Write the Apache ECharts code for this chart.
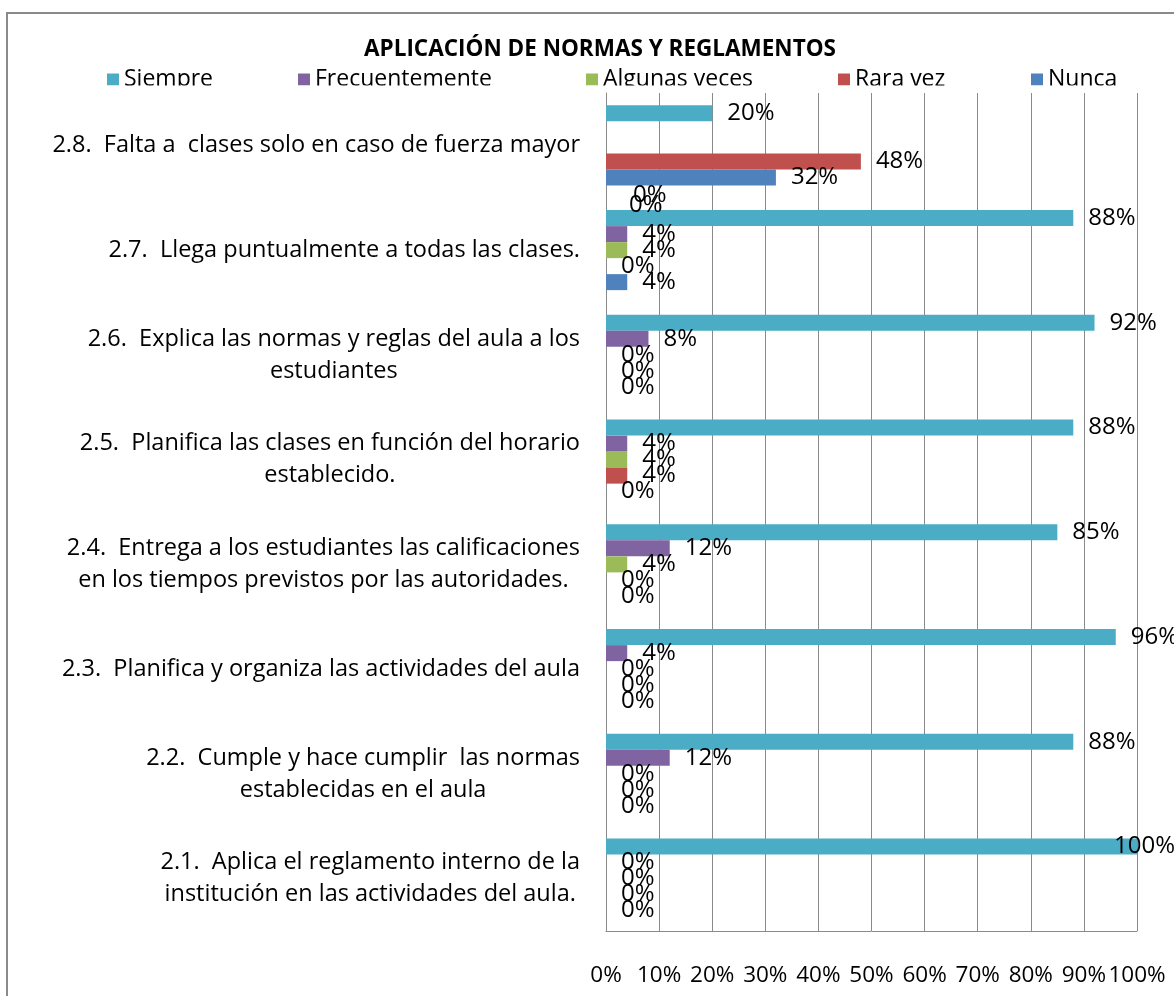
<!DOCTYPE html>
<html>
<head>
<meta charset="utf-8">
<title>Aplicación de normas y reglamentos</title>
<script src="https://cdn.jsdelivr.net/npm/echarts@6/dist/echarts.min.js"></script>
<style>
  html, body { margin: 0; padding: 0; background: #fff; }
  #main { width: 1174px; height: 996px; }
</style>
</head>
<body>
<div id="main"></div>
<script>
// categorias (de abajo hacia arriba)
var categorias = [
  '2.1.  Aplica el reglamento interno de la\ninstitución en las actividades del aula.',
  '2.2.  Cumple y hace cumplir  las normas\nestablecidas en el aula',
  '2.3.  Planifica y organiza las actividades del aula',
  '2.4.  Entrega a los estudiantes las calificaciones\nen los tiempos previstos por las autoridades.',
  '2.5.  Planifica las clases en función del horario\nestablecido.',
  '2.6.  Explica las normas y reglas del aula a los\nestudiantes',
  '2.7.  Llega puntualmente a todas las clases.',
  '2.8.  Falta a  clases solo en caso de fuerza mayor'
];

var siempre        = [100, 88, 96, 85, 88, 92, 88, 20];
var frecuentemente = [0, 12, 4, 12, 4, 8, 4, 0];
var algunasVeces   = [0, 0, 0, 4, 4, 0, 4, 0];
var raraVez        = [0, 0, 0, 0, 4, 0, 0, 48];
var nunca          = [0, 0, 0, 0, 0, 0, 4, 32];

var ejeX = [0, 10, 20, 30, 40, 50, 60, 70, 80, 90, 100];

var nombres = ['Siempre', 'Frecuentemente', 'Algunas veces', 'Rara vez', 'Nunca'];
var valores = [siempre, frecuentemente, algunasVeces, raraVez, nunca];
var colores = ['#4BACC6', '#8064A2', '#9BBB59', '#C0504D', '#4F81BD'];

var fuente = '"Open Sans", "DejaVu Sans", sans-serif';

// posicion horizontal de cada entrada de la leyenda
var leyendaX = [107, 298, 586, 838, 1031];

// etiquetas desplazadas como en el original (serie-categoria) -> offset
var desplazadas = {
  '0-0': [-38, 0],
  '1-7': [12, 66],
  '2-7': [8, 60]
};

var myChart = echarts.init(document.getElementById('main'));

var series = valores.map(function (vals, s) {
  return {
    name: nombres[s],
    type: 'bar',
    barGap: '0%',
    barCategoryGap: '23.6%',
    itemStyle: { color: colores[s] },
    label: {
      show: true,
      position: 'right',
      distance: 15,
      color: '#000',
      fontFamily: fuente,
      fontSize: 24,
      formatter: '{c}%'
    },
    data: vals.map(function (v, i) {
      var off = desplazadas[s + '-' + i];
      if (off) return { value: v, label: { offset: off } };
      return v;
    })
  };
});

var legends = nombres.map(function (n, i) {
  return {
    data: [n],
    left: leyendaX[i],
    top: 68,
    padding: 0,
    itemWidth: 12,
    itemHeight: 12,
    itemGap: 5,
    icon: 'rect',
    textStyle: { fontFamily: fuente, fontSize: 23, color: '#000' }
  };
});

var option = {
  backgroundColor: '#fff',
  animation: false,
  title: {
    text: 'APLICACIÓN DE NORMAS Y REGLAMENTOS',
    left: 595,
    textAlign: 'center',
    top: 33,
    textStyle: { fontFamily: fuente, fontSize: 22.5, fontWeight: 'bold', color: '#000' }
  },
  legend: legends,
  graphic: [
    {
      type: 'rect',
      z: 100,
      shape: { x: 7, y: 13, width: 1180, height: 1000 },
      style: { fill: 'none', stroke: '#8a8a8a', lineWidth: 2 }
    },
    {
      type: 'rect',
      z: 100,
      shape: { x: 90, y: 85.5, width: 1080, height: 6.5 },
      style: { fill: '#fff' }
    }
  ],
  grid: { left: 606, right: 37, top: 93, bottom: 65 },
  xAxis: {
    type: 'value',
    min: 0,
    max: 100,
    interval: 10,
    axisLine: { show: true, lineStyle: { color: '#8a8a8a', width: 1 } },
    axisTick: { show: false },
    splitLine: { show: true, lineStyle: { color: '#8a8a8a', width: 1 } },
    axisLabel: {
      margin: 33,
      color: '#000',
      fontFamily: fuente,
      fontSize: 22.5,
      formatter: function (v) { return ejeX.indexOf(v) >= 0 ? v + '%' : ''; }
    }
  },
  yAxis: {
    type: 'category',
    data: categorias,
    axisLine: { show: true, lineStyle: { color: '#8a8a8a', width: 1 } },
    axisTick: { show: false },
    axisLabel: {
      margin: 26,
      color: '#000',
      formatter: function (v) {
        return v.split('\n').map(function (l) { return '{c|' + l + '}'; }).join('\n');
      },
      rich: {
        c: { align: 'center', fontFamily: fuente, fontSize: 23.5, lineHeight: 32, color: '#000' }
      }
    }
  },
  series: series
};

myChart.setOption(option);
</script>
</body>
</html>
